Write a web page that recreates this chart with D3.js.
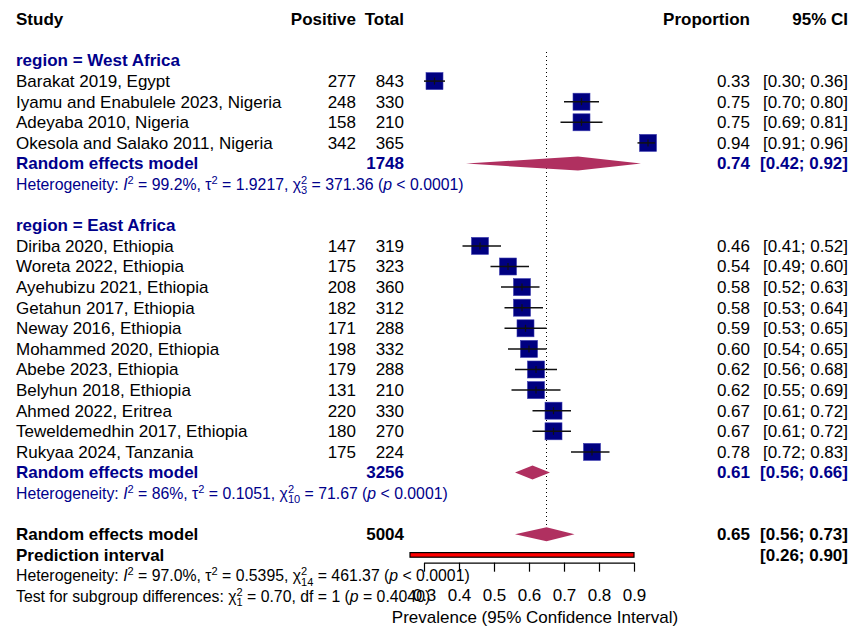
<!DOCTYPE html>
<html><head><meta charset="utf-8">
<script src="https://cdn.jsdelivr.net/npm/d3@7"></script>
<style>
html,body{margin:0;padding:0;background:#fff;}
svg text{font-family:"Liberation Sans",Arial,Helvetica,sans-serif;}
</style></head>
<body><svg id="c" width="855" height="626"></svg>
<script>
// ---------- data ----------
const westStudies = ["Barakat 2019, Egypt","Iyamu and Enabulele 2023, Nigeria","Adeyaba 2010, Nigeria","Okesola and Salako 2011, Nigeria"];
const westPositive = [277,248,158,342];
const westTotal = [843,330,210,365];
const westProp = [0.33,0.75,0.75,0.94];
const westLower = [0.30,0.70,0.69,0.91];
const westUpper = [0.36,0.80,0.81,0.96];

const eastStudies = ["Diriba 2020, Ethiopia","Woreta 2022, Ethiopia","Ayehubizu 2021, Ethiopia","Getahun 2017, Ethiopia","Neway 2016, Ethiopia","Mohammed 2020, Ethiopia","Abebe 2023, Ethiopia","Belyhun 2018, Ethiopia","Ahmed 2022, Eritrea","Teweldemedhin 2017, Ethiopia","Rukyaa 2024, Tanzania"];
const eastPositive = [147,175,208,182,171,198,179,131,220,180,175];
const eastTotal = [319,323,360,312,288,332,288,210,330,270,224];
const eastProp = [0.46,0.54,0.58,0.58,0.59,0.60,0.62,0.62,0.67,0.67,0.78];
const eastLower = [0.41,0.49,0.52,0.53,0.53,0.54,0.56,0.55,0.61,0.61,0.72];
const eastUpper = [0.52,0.60,0.63,0.64,0.65,0.65,0.68,0.69,0.72,0.72,0.83];

const pooledLabels = ["West Africa","East Africa","Overall"];
const pooledTotal = [1748,3256,5004];
const pooledProp = [0.74,0.61,0.65];
const pooledLower = [0.42,0.56,0.56];
const pooledUpper = [0.92,0.66,0.73];
const predInterval = [0.26,0.90];
const axisTicks = [0.3,0.4,0.5,0.6,0.7,0.8,0.9];

// ---------- layout ----------
const svg = d3.select("#c");
const FS = 17;
const navy = "#000080", dblue = "#00008B", maroon = "#B03060";
const rowY = d3.scaleLinear().domain([0,1]).range([19.3,39.9]);
const x = d3.scaleLinear().domain([0.3,0.9]).range([424,634]);
const colStudy = 16, colPos = 356, colTot = 404, colProp = 750, colCI = 848;
const fmt = d3.format(".2f");

function txt(s, xx, row, opt={}) {
  return svg.append("text").attr("x", xx).attr("y", rowY(row)).attr("dy","0.35em")
    .attr("font-size", opt.size||FS).attr("font-weight", opt.bold?"bold":"normal")
    .attr("fill", opt.color||"#000").attr("text-anchor", opt.anchor||"start").text(s);
}

function measure(s, size) {
  const t = svg.append("text").attr("font-size", size).text(s);
  const w = t.node().getComputedTextLength(); t.remove(); return w;
}

// rich text with super/subscripts
function rich(segs, xx, row, size, color) {
  const t = svg.append("text").attr("x", xx).attr("y", rowY(row)).attr("dy","0.35em")
    .attr("font-size", size).attr("fill", color);
  const ss = size*0.7;
  let pendDy = 0, pendDx = 0;
  segs.forEach(sg => {
    if (sg.t !== undefined) {
      const ts = t.append("tspan").text(sg.t).attr("font-style", sg.i?"italic":"normal");
      if (pendDy) ts.attr("dy", pendDy); if (pendDx) ts.attr("dx", pendDx);
      pendDy = 0; pendDx = 0;
    } else {
      const up = -size*0.38;
      const s1 = t.append("tspan").text(sg.sup).attr("font-size", ss).attr("dy", up + pendDy);
      if (pendDx) s1.attr("dx", pendDx);
      pendDx = 0;
      if (sg.sub) {
        const w1 = measure(sg.sup, ss), w2 = measure(sg.sub, ss);
        const down = size*0.3;
        t.append("tspan").text(sg.sub).attr("font-size", ss).attr("dx", -w1).attr("dy", -up + down);
        pendDy = -down;
        pendDx = w2 >= w1 ? 0 : (w1 - w2);
      } else {
        pendDy = -up;
      }
    }
  });
  return t;
}

// header
txt("Study", colStudy, 0, {bold:true});
txt("Positive", colPos, 0, {bold:true, anchor:"end"});
txt("Total", colTot, 0, {bold:true, anchor:"end"});
txt("Proportion", colProp, 0, {bold:true, anchor:"end"});
txt("95% CI", colCI, 0, {bold:true, anchor:"end"});

// reference line (pooled overall)
svg.append("line").attr("x1", x(pooledProp[2])).attr("x2", x(pooledProp[2]))
  .attr("y1", 52).attr("y2", rowY(25)).attr("stroke","#000").attr("stroke-width",1)
  .attr("stroke-dasharray","1,3");

const SQ = 17;
function studyRows(names, pos, tot, p, lo, hi, startRow) {
  names.forEach((n,i) => {
    const r = startRow + i, cy = rowY(r);
    txt(n, colStudy, r);
    txt(pos[i], colPos, r, {anchor:"end"});
    txt(tot[i], colTot, r, {anchor:"end"});
    txt(fmt(p[i]), colProp, r, {anchor:"end"});
    txt("[" + fmt(lo[i]) + "; " + fmt(hi[i]) + "]", colCI, r, {anchor:"end"});
    svg.append("rect").attr("x", x(p[i]) - SQ/2).attr("y", cy - SQ/2).attr("width", SQ).attr("height", SQ)
      .attr("fill", navy).attr("stroke","#3a3ab0").attr("stroke-width",0.6);
    svg.append("line").attr("x1", x(lo[i])).attr("x2", x(hi[i])).attr("y1", cy).attr("y2", cy)
      .attr("stroke","#111").attr("stroke-width",1.5);
    svg.append("line").attr("x1", x(p[i])).attr("x2", x(p[i])).attr("y1", cy-3.5).attr("y2", cy+3.5)
      .attr("stroke","#111").attr("stroke-width",1.2);
  });
}

function diamond(k, row) {
  const cy = rowY(row), h = 7;
  svg.append("path").attr("d", `M${x(pooledLower[k])},${cy} L${x(pooledProp[k])},${cy-h} L${x(pooledUpper[k])},${cy} L${x(pooledProp[k])},${cy+h} Z`)
    .attr("fill", maroon);
}

// West Africa
txt("region = West Africa", colStudy, 2, {bold:true, color:dblue});
studyRows(westStudies, westPositive, westTotal, westProp, westLower, westUpper, 3);
txt("Random effects model", colStudy, 7, {bold:true, color:dblue});
txt(pooledTotal[0], colTot, 7, {bold:true, color:dblue, anchor:"end"});
txt(fmt(pooledProp[0]), colProp, 7, {bold:true, color:dblue, anchor:"end"});
txt("[" + fmt(pooledLower[0]) + "; " + fmt(pooledUpper[0]) + "]", colCI, 7, {bold:true, color:dblue, anchor:"end"});
diamond(0, 7);
const HS = 15.8;
rich([{t:"Heterogeneity: "},{t:"I",i:true},{sup:"2"},{t:" = 99.2%, τ"},{sup:"2"},{t:" = 1.9217, χ"},{sup:"2",sub:"3"},{t:" = 371.36 ("},{t:"p",i:true},{t:" < 0.0001)"}], colStudy, 8, HS, dblue);

// East Africa
txt("region = East Africa", colStudy, 10, {bold:true, color:dblue});
studyRows(eastStudies, eastPositive, eastTotal, eastProp, eastLower, eastUpper, 11);
txt("Random effects model", colStudy, 22, {bold:true, color:dblue});
txt(pooledTotal[1], colTot, 22, {bold:true, color:dblue, anchor:"end"});
txt(fmt(pooledProp[1]), colProp, 22, {bold:true, color:dblue, anchor:"end"});
txt("[" + fmt(pooledLower[1]) + "; " + fmt(pooledUpper[1]) + "]", colCI, 22, {bold:true, color:dblue, anchor:"end"});
diamond(1, 22);
rich([{t:"Heterogeneity: "},{t:"I",i:true},{sup:"2"},{t:" = 86%, τ"},{sup:"2"},{t:" = 0.1051, χ"},{sup:"2",sub:"10"},{t:" = 71.67 ("},{t:"p",i:true},{t:" < 0.0001)"}], colStudy, 23, HS, dblue);

// Overall
txt("Random effects model", colStudy, 25, {bold:true});
txt(pooledTotal[2], colTot, 25, {bold:true, anchor:"end"});
txt(fmt(pooledProp[2]), colProp, 25, {bold:true, anchor:"end"});
txt("[" + fmt(pooledLower[2]) + "; " + fmt(pooledUpper[2]) + "]", colCI, 25, {bold:true, anchor:"end"});
diamond(2, 25);
txt("Prediction interval", colStudy, 26, {bold:true});
txt("[" + fmt(predInterval[0]) + "; " + fmt(predInterval[1]) + "]", colCI, 26, {bold:true, anchor:"end"});
svg.append("rect").attr("x", x(predInterval[0])).attr("y", rowY(26) - 2.3)
  .attr("width", x(predInterval[1]) - x(predInterval[0])).attr("height", 4.6)
  .attr("fill","#FF0000").attr("stroke","#000").attr("stroke-width",1.2);

rich([{t:"Heterogeneity: "},{t:"I",i:true},{sup:"2"},{t:" = 97.0%, τ"},{sup:"2"},{t:" = 0.5395, χ"},{sup:"2",sub:"14"},{t:" = 461.37 ("},{t:"p",i:true},{t:" < 0.0001)"}], colStudy, 27, HS, "#000");
rich([{t:"Test for subgroup differences: χ"},{sup:"2",sub:"1"},{t:" = 0.70, df = 1 ("},{t:"p",i:true},{t:" = 0.4040)"}], colStudy, 28, HS, "#000");

// axis
const axisY = 562.7;
const ax = svg.append("g").attr("transform", `translate(0,${axisY})`)
  .call(d3.axisBottom(x).tickValues(axisTicks).tickFormat(d3.format(".1f")).tickSize(9).tickPadding(17).tickSizeOuter(0));
ax.select(".domain").attr("stroke","#000").attr("stroke-width",1.2);
ax.selectAll(".tick line").attr("stroke","#000").attr("stroke-width",1.2);
ax.selectAll(".tick text").attr("font-size", FS).attr("font-family","Liberation Sans, Arial, sans-serif").attr("fill","#000");
svg.append("text").attr("x", 535).attr("y", rowY(29)).attr("dy","0.35em").attr("text-anchor","middle")
  .attr("font-size", FS).text("Prevalence (95% Confidence Interval)");
</script></body></html>
